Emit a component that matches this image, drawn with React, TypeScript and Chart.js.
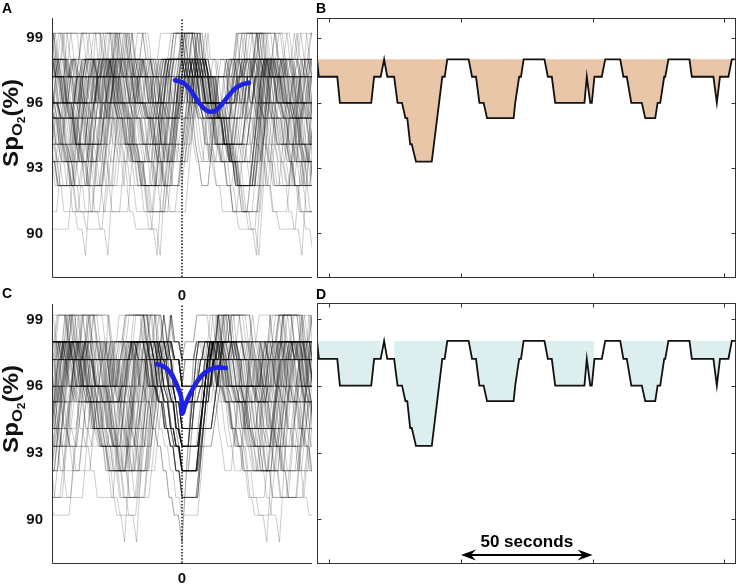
import React, { useEffect, useRef } from "react";
import { Chart, registerables } from "chart.js";

Chart.register(...registerables);

const FONT = "'Liberation Sans', Arial, Helvetica, sans-serif";
const BLUE = "#1e22e8";

// ---------------- values ----------------
const yTicks = [90, 93, 96, 99];
const eventTicks = [0];
const recordTicks = [0, 50, 100, 150];
const saturationBaseline = 98;
const scaleBarSeconds = [50, 100];
const scaleBarLabel = "50 seconds";

// Panel B / D : single SpO2 record (seconds, %)
const recordTimes = [
  -4.7, -4.0, 3.0, 4.0, 15.9, 17.0, 19.5, 20.8, 22.0, 24.6, 25.9, 27.6, 28.9, 29.6, 30.7, 31.3,
  32.9, 38.9, 42.9, 43.8, 44.8, 52.9, 54.2, 55.7, 57.0, 58.6, 59.9, 70.0, 70.6, 72.1, 72.8, 73.8,
  81.7, 83.0, 84.5, 85.8, 96.9, 97.8, 99.1, 99.7, 100.7, 103.5, 104.8, 110.5, 111.7, 113.0, 114.7,
  118.7, 120.0, 123.8, 124.7, 125.7, 127.2, 127.6, 128.8, 136.8, 137.7, 145.9, 147.2, 148.4, 151.6,
  152.9, 154.1,
];
const recordValues = [
  98, 97.2, 97.2, 96, 96, 97.2, 97.2, 98, 97.2, 97.2, 96, 96, 95.3, 95.3, 94.1, 94.1,
  93.3, 93.3, 97.2, 97.2, 98, 98, 97.2, 97.2, 96, 96, 95.3, 95.3, 96, 97.2, 97.2, 98,
  98, 97.2, 97.2, 96, 96, 97.2, 96, 96, 97.2, 97.2, 98, 98, 97.2, 97.2, 96,
  96, 95.3, 95.3, 96, 96, 97.2, 97.2, 98, 98, 97.2, 97.2, 96, 97.2, 97.2,
  98, 98,
];
// stretches of panel D that are left unshaded
const dUnshaded = [[20, 24], [101.5, 104.5]];

// blue event-averaged curves
const blueATimes = [-2.7, 0.5, 3.1, 5.65, 8.2, 10.8, 12.7, 15.3, 17.8, 20.4, 23.0, 25.8];
const blueAValues = [97.04, 96.92, 96.61, 96.16, 95.77, 95.59, 95.62, 95.93, 96.31, 96.66, 96.84, 96.92];
const blueCTimes = [-9.7, -7.2, -4.6, -2.7, -1.4, -0.5, -0.1, 0.1, 1.15, 3.1, 5.65, 8.2, 11.4, 14.0, 16.9];
const blueCValues = [97.0, 96.9, 96.63, 96.25, 95.88, 95.58, 95.28, 94.76, 95.13, 95.65, 96.18, 96.55, 96.78, 96.85, 96.82];

// oximeter output levels seen as horizontal bands in panels A and C
const LEVELS = [99.2, 98.0, 97.2, 96.0, 95.3, 94.1, 93.3, 92.2, 91.0, 90.2, 89.0];

// desaturation shapes [seconds from onset, level index]
const dipTemplates: number[][][] = [
  [[0, 1], [1.2, 2], [3.5, 2], [4.5, 3], [15.9, 3], [17, 2], [19.5, 2], [20.8, 1]],
  [[0, 1], [1.3, 2], [3.8, 2], [5.1, 3], [6.8, 3], [8.1, 4], [8.8, 4], [9.9, 5], [10.5, 5], [12.1, 6], [18.1, 6], [22.1, 2], [23, 2], [24, 1]],
  [[0, 1], [1.3, 2], [2.8, 2], [4.1, 3], [5.7, 3], [7, 4], [17.1, 4], [17.7, 3], [19.2, 2], [19.9, 2], [20.9, 1]],
  [[0, 1], [1.3, 2], [2.8, 2], [4.1, 3], [15.2, 3], [16.1, 2], [17.4, 3], [18, 3], [19, 2], [21.8, 2], [23.1, 1]],
  [[0, 1], [1.2, 2], [2.5, 2], [4.2, 3], [8.2, 3], [9.5, 4], [13.3, 4], [14.2, 3], [15.2, 3], [16.7, 2], [17.1, 2], [18.3, 1]],
  [[0, 1], [0.9, 2], [9.1, 2], [10.4, 3], [11.6, 2], [14.8, 2], [16.1, 1]],
  [[0, 1], [1.2, 2], [3, 2], [4.2, 3], [5.6, 3], [6.8, 4], [8, 4], [9.2, 5], [10.2, 5], [11.3, 6], [12.5, 6], [13.6, 7], [19, 7], [23.5, 2], [24.5, 1]],
  [[0, 1], [1.2, 2], [2.6, 2], [3.8, 3], [5, 3], [6.2, 4], [7.2, 4], [8.4, 5], [9.4, 5], [10.5, 6], [11.5, 6], [12.6, 7], [13.8, 7], [15, 8], [21, 8], [25.5, 2], [26.5, 1]],
  [[0, 1], [1.2, 2], [2.4, 2], [3.6, 3], [4.8, 3], [6, 4], [7, 4], [8.2, 5], [9.2, 5], [10.3, 6], [11.3, 6], [12.4, 7], [13.5, 7], [14.6, 8], [15.6, 8], [16.6, 9], [18.2, 9], [19.6, 10], [24, 2], [25, 1]],
  [[0, 1], [1.2, 2], [2.6, 2], [3.8, 3], [5.2, 3], [6.4, 4], [7.6, 4], [8.8, 5], [20, 5], [23.5, 2], [24.5, 1]],
  [[0, 1], [1.2, 2], [2.2, 3], [3.2, 4], [4.4, 5], [5.6, 6], [8, 6], [11, 2], [12, 1]],
  [[0, 1], [1.5, 2], [4, 2], [5.3, 3], [8, 3], [9.3, 4], [11, 4], [12.3, 5], [14, 5], [15.3, 6], [17, 6], [18.3, 7], [24, 7], [28, 2], [29, 1]],
];

// overnight sequence of desaturations: shape, pause after it (s), level offset, event lead (s)
const nightTemplate = [
  1, 6, 2, 9, 4, 10, 0, 1, 11, 3,
  6, 2, 4, 9, 1, 7, 10, 5, 2, 6,
  4, 1, 3, 9, 6, 10, 2, 8, 4, 1,
  11, 2, 6, 0, 9, 4, 1, 3, 10, 6,
  2, 7, 4, 1, 9, 5, 6, 3, 1, 10,
  4, 11, 2, 6, 9, 0, 1, 4, 7, 3,
  10, 6, 2, 1, 9, 4, 5, 11, 1, 6,
  3, 2, 10, 4, 7, 9, 0, 6, 1, 2,
  4, 8, 3, 11, 1, 9, 6, 5, 10, 2,
  7, 1, 4, 0, 6, 3, 9, 5, 11, 0,
];
const nightGap = [
  0, 5, 3, 8, 2, 6, 12, 1, 4, 7,
  3, 9, 1, 5, 14, 2, 6, 4, 0, 8,
  5, 2, 7, 3, 10, 1, 4, 6, 13, 2,
  6, 0, 4, 9, 3, 7, 2, 15, 5, 1,
  8, 3, 6, 1, 11, 4, 2, 7, 3, 9,
  2, 6, 13, 4, 0, 8, 5, 3, 7, 1,
  4, 10, 2, 6, 3, 12, 1, 5, 8, 2,
  7, 1, 5, 14, 2, 4, 9, 3, 6, 0,
  3, 8, 2, 5, 11, 1, 7, 4, 2, 6,
  9, 2, 4, 7, 1, 13, 3, 6, 0, 5,
];
const nightShift = [
  0, 0, -1, 0, 1, 0, 0, 0, 0, -1,
  1, 0, 0, 0, 0, 0, 1, -1, 0, 0,
  0, 1, 0, -1, 0, 0, 0, 0, 1, 0,
  0, -1, 0, 0, 1, 0, 0, 0, 0, 1,
  -1, 0, 0, 1, 0, 0, 0, -1, 0, 0,
  1, 0, 0, 0, 0, -1, 0, 0, 1, 0,
  0, 0, -1, 1, 0, 0, 0, 0, 0, 1,
  -1, 0, 0, 0, 0, 1, 0, 0, -1, 0,
  1, 0, 0, 0, 0, 0, -1, 0, 1, 0,
  0, 0, 1, -1, 0, 0, 0, -1, 0, 0,
];
const eventLead = [
  3, 8, 0, 6, 10, 2, 7, 4, 9, 1,
  6, 3, 10, 5, 0, 8, 2, 7, 1, 9,
  5, 1, 9, 4, 7, 0, 6, 10, 3, 8,
  8, 2, 7, 4, 10, 5, 1, 9, 3, 6,
  0, 6, 3, 10, 7, 2, 8, 4, 9, 5,
  10, 4, 1, 8, 3, 9, 6, 0, 7, 2,
  7, 10, 4, 9, 5, 1, 8, 3, 6, 2,
  6, 0, 9, 2, 8, 10, 4, 7, 1, 5,
  4, 9, 5, 10, 0, 3, 7, 8, 2, 6,
  9, 3, 7, 1, 8, 5, 0, 10, 4, 6,
];

// ---------------- derived series ----------------
type P = { x: number; y: number | null };

function buildNight() {
  const pts: P[] = [];
  const aEvents: number[] = [];
  const cEvents: number[] = [];
  let t = 0;
  for (let k = 0; k < nightTemplate.length; k++) {
    const tpl = dipTemplates[nightTemplate[k]];
    const sh = nightShift[k];
    aEvents.push(t - eventLead[k]);
    let deepest = -1;
    let deepT = t;
    for (const [dt, li] of tpl) {
      const idx = li + sh;
      pts.push({ x: t + dt, y: LEVELS[idx] });
      if (idx > deepest) {
        deepest = idx;
        deepT = t + dt;
      }
    }
    cEvents.push(deepT);
    const end = t + tpl[tpl.length - 1][0];
    const nextSh = k + 1 < nightTemplate.length ? nightShift[k + 1] : sh;
    if (nextSh !== sh) {
      pts.push({ x: end + nightGap[k], y: LEVELS[1 + sh] });
      t = end + nightGap[k] + 1.2;
    } else {
      t = end + nightGap[k];
    }
  }
  return { pts, aEvents, cEvents, end: pts[pts.length - 1].x };
}

function eventWindows(pts: P[], events: number[], end: number, half: number) {
  const out: P[][] = [];
  for (const e of events) {
    if (e - half < 0 || e + half > end) continue;
    const seg: P[] = [];
    for (let i = 0; i < pts.length; i++) {
      const p = pts[i];
      const prev = pts[i - 1];
      const nxt = pts[i + 1];
      const inside = p.x >= e - half && p.x <= e + half;
      const leadIn = p.x < e - half && nxt && nxt.x >= e - half;
      const leadOut = p.x > e + half && prev && prev.x <= e + half;
      if (inside || leadIn || leadOut) seg.push({ x: p.x - e, y: p.y });
    }
    out.push(seg);
  }
  return out;
}

const night = buildNight();
const tracesA = eventWindows(night.pts, night.aEvents, night.end, 50);
const tracesC = eventWindows(night.pts, night.cEvents, night.end, 50);

// ---------------- plugins ----------------
const overlayAxes = {
  id: "overlayAxes",
  afterDraw(chart: any) {
    const { ctx, chartArea } = chart;
    const l = Math.round(chartArea.left) + 0.5;
    const b = Math.round(chartArea.bottom) + 0.5;
    ctx.save();
    ctx.strokeStyle = "#333";
    ctx.lineWidth = 1;
    ctx.beginPath();
    ctx.moveTo(l, chartArea.top);
    ctx.lineTo(l, b);
    ctx.lineTo(chartArea.right, b);
    ctx.stroke();
    ctx.restore();
  },
};

function makeFramePlugin(withScaleBar: boolean) {
  return {
    id: "frame",
    afterDraw(chart: any) {
      const { ctx, chartArea, scales } = chart;
      const l = Math.round(chartArea.left) + 0.5;
      const t = Math.round(chartArea.top) + 0.5;
      const r = Math.round(chartArea.right) + 0.5;
      const b = Math.round(chartArea.bottom) + 0.5;
      ctx.save();
      ctx.strokeStyle = "#333";
      ctx.lineWidth = 1;
      ctx.strokeRect(l, t, r - l, b - t);
      ctx.beginPath();
      for (const v of recordTicks) {
        const px = Math.round(scales.x.getPixelForValue(v)) + 0.5;
        ctx.moveTo(px, t);
        ctx.lineTo(px, t + 4);
        ctx.moveTo(px, b);
        ctx.lineTo(px, b - 4);
      }
      for (const v of yTicks) {
        const py = Math.round(scales.y.getPixelForValue(v)) + 0.5;
        ctx.moveTo(l, py);
        ctx.lineTo(l + 4, py);
        ctx.moveTo(r, py);
        ctx.lineTo(r - 4, py);
      }
      ctx.stroke();
      if (withScaleBar) {
        const x0 = scales.x.getPixelForValue(scaleBarSeconds[0]);
        const x1 = scales.x.getPixelForValue(scaleBarSeconds[1]);
        const y = chartArea.bottom - 8;
        ctx.fillStyle = "#000";
        ctx.strokeStyle = "#000";
        ctx.lineWidth = 2;
        ctx.beginPath();
        ctx.moveTo(x0 + 8, y);
        ctx.lineTo(x1 - 8, y);
        ctx.stroke();
        const head = (tip: number, dir: number) => {
          ctx.beginPath();
          ctx.moveTo(tip, y);
          ctx.lineTo(tip + dir * 15, y - 5.5);
          ctx.lineTo(tip + dir * 10, y);
          ctx.lineTo(tip + dir * 15, y + 5.5);
          ctx.closePath();
          ctx.fill();
        };
        head(x0, 1);
        head(x1, -1);
        ctx.font = `bold 17px ${FONT}`;
        ctx.textAlign = "center";
        ctx.textBaseline = "alphabetic";
        ctx.fillText(scaleBarLabel, (x0 + x1) / 2, chartArea.bottom - 16);
      }
      ctx.restore();
    },
  };
}

// ---------------- chart configs ----------------
function overlayConfig(
  traces: P[][],
  bx: number[],
  by: number[],
  yMin: number,
  yMax: number,
  padTop: number,
  padRight: number,
  xAxisH: number,
  labelPad: number
): any {
  const datasets: any[] = [];
  datasets.push({
    data: bx.map((x, i) => ({ x, y: by[i] })),
    borderColor: BLUE,
    borderWidth: 4.6,
    pointRadius: 0,
    cubicInterpolationMode: "monotone",
    borderCapStyle: "round",
    borderJoinStyle: "round",
    order: 0,
  });
  datasets.push({
    data: eventTicks.flatMap((v) => [{ x: v, y: yMin }, { x: v, y: yMax }]),
    borderColor: "#111",
    borderWidth: 1.5,
    borderDash: [1.5, 1.7],
    pointRadius: 0,
    order: 1,
  });
  traces.forEach((tr) =>
    datasets.push({
      data: tr,
      borderColor: "rgba(0,0,0,0.2)",
      borderWidth: 1,
      pointRadius: 0,
      order: 2,
    })
  );
  const tickFont = { family: FONT, size: 15, weight: "bold" };
  return {
    type: "line",
    data: { datasets },
    options: {
      responsive: false,
      animation: false,
      events: [],
      layout: { padding: { top: padTop, right: padRight, left: 0, bottom: 0 } },
      plugins: { legend: { display: false }, tooltip: { enabled: false } },
      scales: {
        x: {
          type: "linear",
          min: -50,
          max: 50,
          grid: { display: false, drawTicks: false },
          border: { display: false },
          ticks: { font: tickFont, color: "#111", padding: labelPad, maxRotation: 0 },
          afterBuildTicks: (s: any) => {
            s.ticks = eventTicks.map((v) => ({ value: v }));
          },
          afterFit: (s: any) => {
            s.height = xAxisH;
            s.paddingLeft = 0;
            s.paddingRight = 0;
          },
        },
        y: {
          type: "linear",
          min: yMin,
          max: yMax,
          grid: { display: false, drawTicks: false },
          border: { display: false },
          ticks: { font: tickFont, color: "#111", padding: 9 },
          afterBuildTicks: (s: any) => {
            s.ticks = yTicks.map((v) => ({ value: v }));
          },
          afterFit: (s: any) => {
            s.width = 52;
            s.paddingTop = 0;
            s.paddingBottom = 0;
          },
        },
      },
    },
    plugins: [overlayAxes],
  };
}

function recordConfig(
  fillColor: string,
  yMin: number,
  yMax: number,
  pad: { left: number; top: number; right: number; bottom: number },
  unshaded: number[][],
  withScaleBar: boolean
): any {
  const pts = recordTimes.map((x, i) => ({ x, y: recordValues[i] }));
  const fillPts = pts.map((p) =>
    unshaded.some(([a, b]) => p.x > a && p.x < b) ? { x: p.x, y: null } : p
  );
  return {
    type: "line",
    data: {
      datasets: [
        {
          data: pts,
          borderColor: "#111",
          borderWidth: 1.8,
          pointRadius: 0,
          fill: false,
          order: 0,
        },
        {
          data: fillPts,
          borderColor: "rgba(0,0,0,0)",
          borderWidth: 1,
          backgroundColor: fillColor,
          fill: { value: saturationBaseline },
          spanGaps: false,
          pointRadius: 0,
          order: 1,
        },
      ],
    },
    options: {
      responsive: false,
      animation: false,
      events: [],
      layout: { padding: pad },
      plugins: { legend: { display: false }, tooltip: { enabled: false } },
      scales: {
        x: { type: "linear", min: -4.7, max: 154.1, display: false },
        y: { type: "linear", min: yMin, max: yMax, display: false },
      },
    },
    plugins: [makeFramePlugin(withScaleBar)],
  };
}

// ---------------- components ----------------
function PanelChart(props: { left: number; top: number; width: number; height: number; build: () => any }) {
  const ref = useRef<HTMLCanvasElement>(null);
  useEffect(() => {
    const chart = new Chart(ref.current as HTMLCanvasElement, props.build());
    return () => chart.destroy();
  }, []);
  return (
    <canvas
      ref={ref}
      width={props.width}
      height={props.height}
      style={{ position: "absolute", left: props.left, top: props.top, width: props.width, height: props.height }}
    />
  );
}

function PanelLetter({ text, left, top }: { text: string; left: number; top: number }) {
  return (
    <div style={{ position: "absolute", left, top, font: `bold 14px ${FONT}`, lineHeight: "14px", color: "#000" }}>
      {text}
    </div>
  );
}

function YTitle({ left, top }: { left: number; top: number }) {
  return (
    <div
      style={{
        position: "absolute",
        left,
        top,
        transform: "rotate(-90deg) scaleX(1.1)",
        transformOrigin: "0 0",
        whiteSpace: "nowrap",
        font: `bold 22px ${FONT}`,
        lineHeight: "24px",
        color: "#111",
      }}
    >
      Sp
      <span style={{ fontSize: "15px", position: "relative", top: "4px" }}>
        O<span style={{ fontSize: "11px", position: "relative", top: "3px" }}>2</span>
      </span>
      (%)
    </div>
  );
}

export default function App() {
  return (
    <div style={{ position: "absolute", left: 0, top: 0, width: 738, height: 588, background: "#fff", overflow: "hidden" }}>
      <PanelChart
        left={0}
        top={0}
        width={316}
        height={305}
        build={() => overlayConfig(tracesA, blueATimes, blueAValues, 88, 99.9, 18, 4, 28, 10)}
      />
      <PanelChart
        left={0}
        top={290}
        width={316}
        height={298}
        build={() => overlayConfig(tracesC, blueCTimes, blueCValues, 88.05, 99.7, 14, 4, 25, 7)}
      />
      <PanelChart
        left={310}
        top={0}
        width={428}
        height={290}
        build={() => recordConfig("#eac6a8", 88, 99.9, { left: 7, top: 18, right: 3, bottom: 13 }, [], false)}
      />
      <PanelChart
        left={310}
        top={290}
        width={428}
        height={298}
        build={() => recordConfig("#dcefee", 88.05, 99.7, { left: 7, top: 13, right: 3, bottom: 25 }, dUnshaded, true)}
      />
      <YTitle left={-1} top={167} />
      <YTitle left={-1} top={453} />
      <PanelLetter text="A" left={2} top={1} />
      <PanelLetter text="B" left={316} top={1} />
      <PanelLetter text="C" left={2} top={286} />
      <PanelLetter text="D" left={316} top={287} />
    </div>
  );
}
